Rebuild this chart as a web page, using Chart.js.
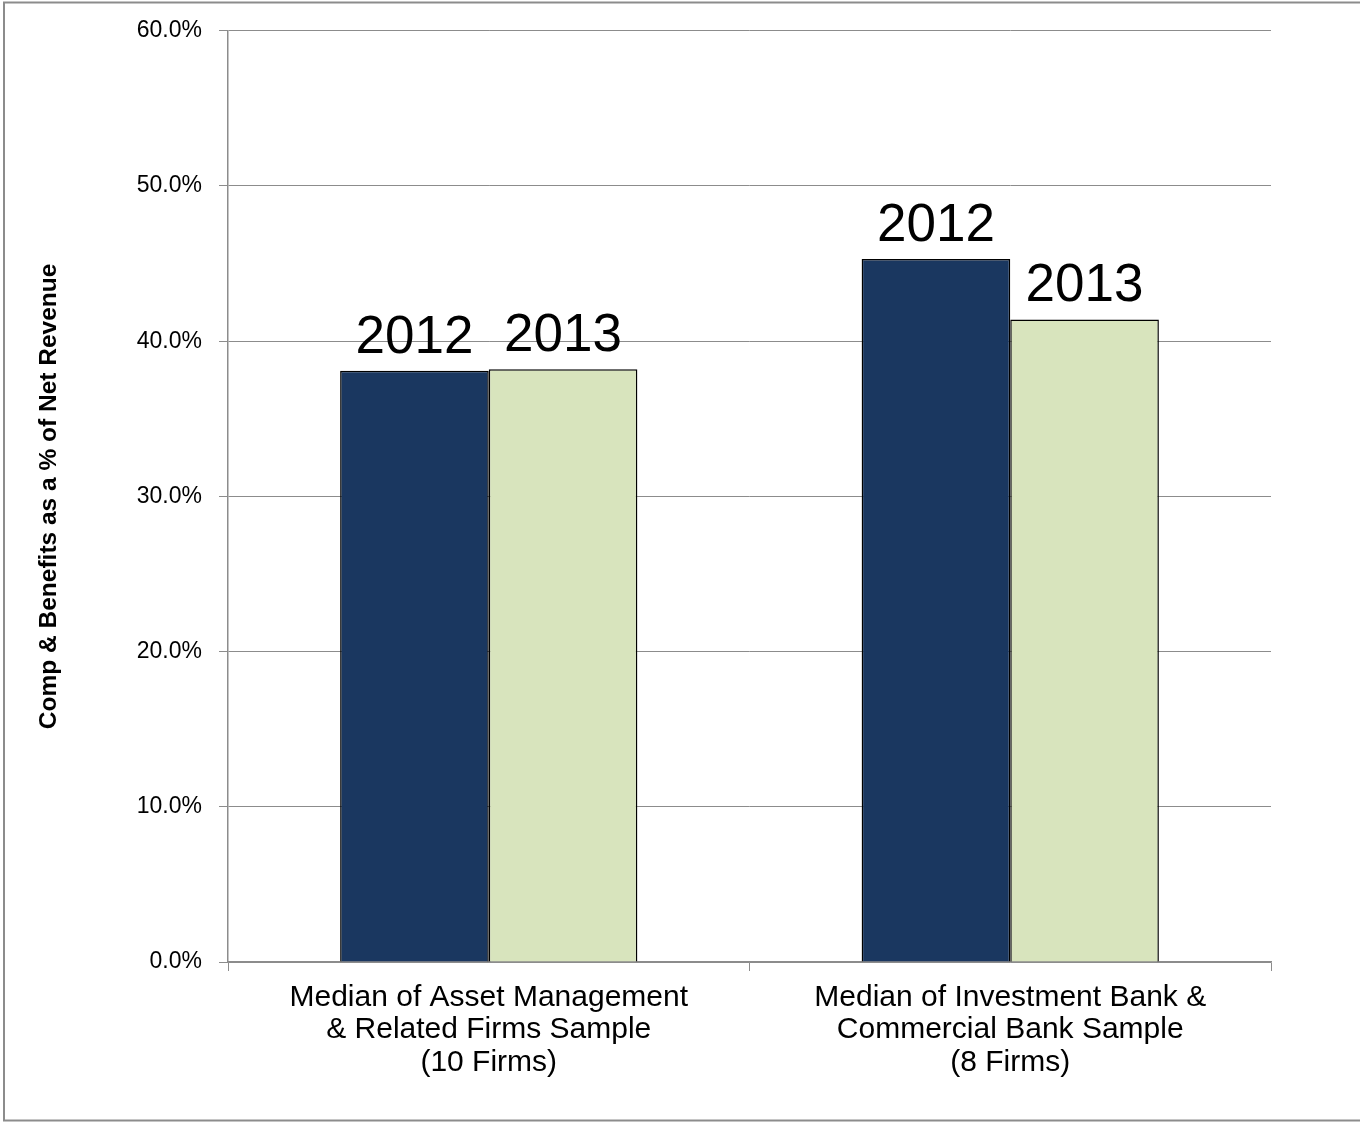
<!DOCTYPE html>
<html>
<head>
<meta charset="utf-8">
<script src="https://cdn.jsdelivr.net/npm/chart.js@4.4.1/dist/chart.umd.min.js"></script>
<style>
  html, body { margin: 0; padding: 0; background: #ffffff; }
  #wrap { width: 1360px; height: 1122px; position: relative; }
</style>
</head>
<body>
<div id="wrap"><canvas id="c" width="1360" height="1122"></canvas></div>
<script>
// ---- data ----
const categories = [
  ["Median of Asset Management", "& Related Firms Sample", "(10 Firms)"],
  ["Median of Investment Bank &", "Commercial Bank Sample", "(8 Firms)"]
];
const seriesNames = ["2012", "2013"];
const values2012 = [38.1, 45.3];
const values2013 = [38.2, 41.4];
const yTicks = [0, 10, 20, 30, 40, 50, 60];
const yTitle = "Comp & Benefits as a % of Net Revenue";

const FONT = "'Liberation Sans', Arial, Helvetica, sans-serif";
const GRID = '#8c8c8c';

const frame = {
  id: 'frame',
  beforeDraw(chart) {
    const ctx = chart.ctx;
    ctx.save();
    ctx.fillStyle = '#ffffff';
    ctx.fillRect(0, 0, chart.width, chart.height);
    ctx.strokeStyle = '#8c8c8c';
    ctx.lineWidth = 2;
    ctx.strokeRect(4, 2.5, chart.width + 10, chart.height - 4);
    ctx.restore();
  }
};

const barLabels = {
  id: 'barLabels',
  afterDatasetsDraw(chart) {
    const ctx = chart.ctx;
    ctx.save();
    ctx.font = "53px " + FONT;
    ctx.fillStyle = '#000000';
    ctx.textAlign = 'center';
    ctx.textBaseline = 'alphabetic';
    chart.data.datasets.forEach((ds, i) => {
      const meta = chart.getDatasetMeta(i);
      meta.data.forEach(el => {
        ctx.fillText(ds.label, el.x, el.y - 18);
      });
    });
    ctx.restore();
  }
};

new Chart(document.getElementById('c'), {
  type: 'bar',
  data: {
    labels: categories,
    datasets: [
      { label: seriesNames[0], data: values2012, backgroundColor: '#1a3760', borderColor: '#000000', borderWidth: 1.5 },
      { label: seriesNames[1], data: values2013, backgroundColor: '#d8e4bd', borderColor: '#000000', borderWidth: 1.5 }
    ]
  },
  options: {
    responsive: false,
    animation: false,
    devicePixelRatio: 1,
    categoryPercentage: 0.57,
    barPercentage: 1.0,
    layout: { padding: { top: 28, right: 89, bottom: 0, left: 0 } },
    plugins: {
      legend: { display: false },
      tooltip: { enabled: false },
      title: { display: false }
    },
    scales: {
      x: {
        grid: { drawOnChartArea: false, drawTicks: true, tickLength: 9, color: GRID, offset: true },
        border: { color: GRID, width: 1.5 },
        ticks: { color: '#000000', font: { family: FONT, size: 30, lineHeight: 1.085 }, padding: 10, maxRotation: 0, autoSkip: false },
        afterFit(scale) { scale.height = 160; }
      },
      y: {
        min: 0,
        max: 60,
        afterBuildTicks(scale) { scale.ticks = yTicks.map(v => ({ value: v })); },
        grid: { color: GRID, tickLength: 9, lineWidth: 1 },
        border: { color: GRID, width: 1.5 },
        ticks: {
          color: '#000000',
          font: { family: FONT, size: 23 },
          padding: 17,
          callback: v => v.toFixed(1) + '%'
        },
        title: {
          display: true,
          text: yTitle,
          color: '#000000',
          font: { family: FONT, size: 24.5, weight: 'bold' },
          padding: { top: 35, bottom: 0 }
        },
        afterFit(scale) { scale.width = 228; }
      }
    }
  },
  plugins: [frame, barLabels]
});
</script>
</body>
</html>
